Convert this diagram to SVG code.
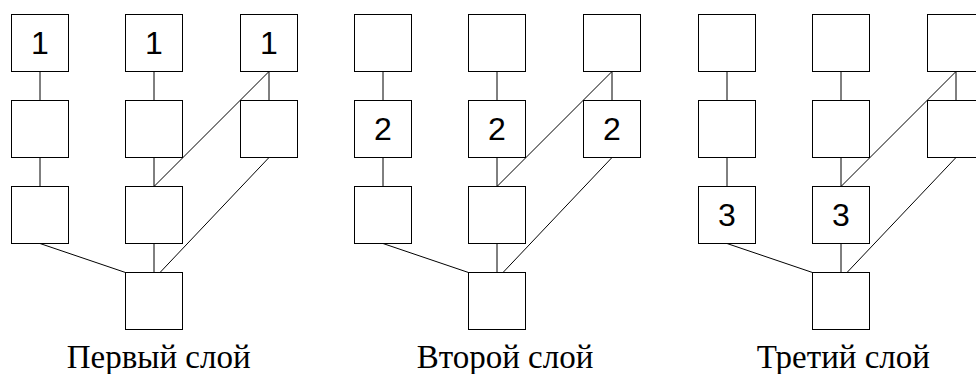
<svg xmlns="http://www.w3.org/2000/svg" width="976" height="374" viewBox="0 0 976 374">
<defs>
<style>
.box{fill:#fff;stroke:#000;stroke-width:1}
.ln{stroke:#000;stroke-width:1;fill:none}
.num{font-family:"Liberation Sans",Arial,sans-serif;font-size:32px;text-anchor:middle;fill:#000}
.cap{font-family:"Liberation Serif","Times New Roman",serif;font-size:33px;fill:#000}
</style>
</defs>
<g id="connectors">
<g transform="translate(0,0)">
<path class="ln" d="M40 71.5V100.5M40 157.5V186.5M40 243.5L125.5 272.5M154 71.5V100.5M154 157.5V186.5M154 243.5V272.5M269 71.5V100.5M269 71.5L154 186.5M269 157.5L160 272.5"/>
</g>
<g transform="translate(343,0)">
<path class="ln" d="M40 71.5V100.5M40 157.5V186.5M40 243.5L125.5 272.5M154 71.5V100.5M154 157.5V186.5M154 243.5V272.5M269 71.5V100.5M269 71.5L154 186.5M269 157.5L160 272.5"/>
</g>
<g transform="translate(687,0)">
<path class="ln" d="M40 71.5V100.5M40 157.5V186.5M40 243.5L125.5 272.5M154 71.5V100.5M154 157.5V186.5M154 243.5V272.5M269 71.5V100.5M269 71.5L154 186.5M269 157.5L160 272.5"/>
</g>
</g>
<g id="layer1">
<g id="p1-a1"><rect class="box" x="11.5" y="14.5" width="57" height="57"/><text class="num" x="40" y="54">1</text></g>
<g id="p1-b1"><rect class="box" x="125.5" y="14.5" width="57" height="57"/><text class="num" x="154" y="54">1</text></g>
<g id="p1-c1"><rect class="box" x="240.5" y="14.5" width="57" height="57"/><text class="num" x="269" y="54">1</text></g>
<g id="p1-a2"><rect class="box" x="11.5" y="100.5" width="57" height="57"/></g>
<g id="p1-b2"><rect class="box" x="125.5" y="100.5" width="57" height="57"/></g>
<g id="p1-c2"><rect class="box" x="240.5" y="100.5" width="57" height="57"/></g>
<g id="p1-a3"><rect class="box" x="11.5" y="186.5" width="57" height="57"/></g>
<g id="p1-b3"><rect class="box" x="125.5" y="186.5" width="57" height="57"/></g>
<g id="p1-out"><rect class="box" x="125.5" y="272.5" width="57" height="57"/></g>
<text id="p1-label" class="cap" x="66.7" y="368">Первый слой</text>
</g>
<g id="layer2" transform="translate(343,0)">
<g id="p2-a1"><rect class="box" x="11.5" y="14.5" width="57" height="57"/></g>
<g id="p2-b1"><rect class="box" x="125.5" y="14.5" width="57" height="57"/></g>
<g id="p2-c1"><rect class="box" x="240.5" y="14.5" width="57" height="57"/></g>
<g id="p2-a2"><rect class="box" x="11.5" y="100.5" width="57" height="57"/><text class="num" x="40" y="140">2</text></g>
<g id="p2-b2"><rect class="box" x="125.5" y="100.5" width="57" height="57"/><text class="num" x="154" y="140">2</text></g>
<g id="p2-c2"><rect class="box" x="240.5" y="100.5" width="57" height="57"/><text class="num" x="269" y="140">2</text></g>
<g id="p2-a3"><rect class="box" x="11.5" y="186.5" width="57" height="57"/></g>
<g id="p2-b3"><rect class="box" x="125.5" y="186.5" width="57" height="57"/></g>
<g id="p2-out"><rect class="box" x="125.5" y="272.5" width="57" height="57"/></g>
<text id="p2-label" class="cap" x="73.7" y="368">Второй слой</text>
</g>
<g id="layer3" transform="translate(687,0)">
<g id="p3-a1"><rect class="box" x="11.5" y="14.5" width="57" height="57"/></g>
<g id="p3-b1"><rect class="box" x="125.5" y="14.5" width="57" height="57"/></g>
<g id="p3-c1"><rect class="box" x="240.5" y="14.5" width="57" height="57"/></g>
<g id="p3-a2"><rect class="box" x="11.5" y="100.5" width="57" height="57"/></g>
<g id="p3-b2"><rect class="box" x="125.5" y="100.5" width="57" height="57"/></g>
<g id="p3-c2"><rect class="box" x="240.5" y="100.5" width="57" height="57"/></g>
<g id="p3-a3"><rect class="box" x="11.5" y="186.5" width="57" height="57"/><text class="num" x="40" y="226">3</text></g>
<g id="p3-b3"><rect class="box" x="125.5" y="186.5" width="57" height="57"/><text class="num" x="154" y="226">3</text></g>
<g id="p3-out"><rect class="box" x="125.5" y="272.5" width="57" height="57"/></g>
<text id="p3-label" class="cap" x="69.7" y="368">Третий слой</text>
</g>
</svg>
